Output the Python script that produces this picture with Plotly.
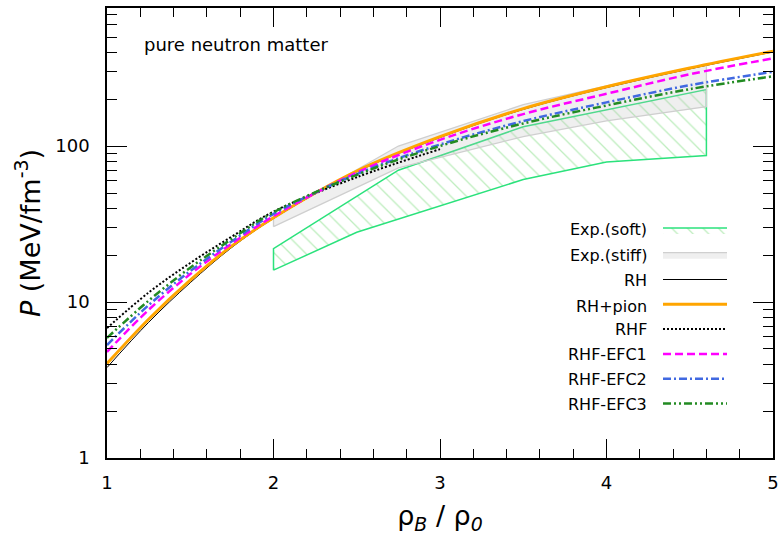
import plotly.graph_objects as go

# ---------------- data ----------------
rho = [1.0, 1.25, 1.5, 1.75, 2.0, 2.5, 3.0, 3.5, 4.0, 4.5, 5.0]
P_RH = [3.8, 7.41, 13.3, 22.4, 34.3, 68.4, 113.5, 171.8, 237.1, 312.6, 401.0]
P_RH_pion = [4.03, 7.76, 13.8, 22.9, 34.7, 69.2, 114.8, 173.8, 239.9, 316.2, 405.0]
rho_RHF = [1.0, 1.25, 1.5, 1.75, 2.0, 2.5, 3.0]
P_RHF = [6.81, 11.5, 17.8, 26.3, 38.0, 63.1, 95.5]
P_EFC1 = [4.79, 8.91, 15.1, 23.7, 35.5, 67.6, 109.6, 160.3, 216.3, 288.4, 364.8]
P_EFC2 = [5.3, 9.55, 15.8, 24.5, 36.7, 66.1, 102.3, 144.5, 190.5, 245.5, 299.2]
P_EFC3 = [5.89, 10.2, 16.6, 25.4, 37.6, 65.3, 100.0, 139.6, 182.0, 231.7, 279.9]

soft_lower_x = [2.0, 2.5, 3.5, 4.0, 4.6]
soft_lower = [16.0, 28.0, 61.0, 79.0, 87.0]
soft_upper_x = [2.0, 2.75, 3.5, 4.6]
soft_upper = [22.0, 70.0, 133.0, 230.0]

stiff_x = [2.0, 2.75, 3.5, 4.0, 4.6]
stiff_lower = [30.4, 72.4, 115.0, 145.0, 179.0]
stiff_upper = [35.0, 100.0, 184.0, 243.0, 331.0]

labels = ["Exp.(soft)", "Exp.(stiff)", "RH", "RH+pion", "RHF",
          "RHF-EFC1", "RHF-EFC2", "RHF-EFC3"]

FONT = "DejaVu Sans"

fig = go.Figure()

# soft band (hatched polygon)
fig.add_trace(go.Scatter(
    x=soft_lower_x + soft_upper_x[::-1] + [soft_lower_x[0]],
    y=soft_lower + soft_upper[::-1] + [soft_lower[0]],
    mode="lines", fill="toself",
    line=dict(color="#2be27c", width=1.5),
    fillcolor="rgba(255,255,255,0)",
    fillpattern=dict(shape="\\", fgcolor="#7edc7e", bgcolor="rgba(255,255,255,0)",
                     size=11, solidity=0.12),
    name="", legendgroup="a", hoverinfo="skip"))

# stiff band (grey)
fig.add_trace(go.Scatter(
    x=stiff_x + stiff_x[::-1] + [stiff_x[0]],
    y=stiff_lower + stiff_upper[::-1] + [stiff_lower[0]],
    mode="lines", fill="toself",
    line=dict(color="#cfcfcf", width=1.3),
    fillcolor="rgba(190,190,190,0.25)",
    name="", legendgroup="b", hoverinfo="skip"))

def curve(x, y, color, width, dash, grp):
    fig.add_trace(go.Scatter(x=x, y=y, mode="lines", line_shape="spline",
                             line=dict(color=color, width=width, dash=dash),
                             name="", legendgroup=grp))

curve(rho, P_RH, "#000000", 1.0, "solid", "c")
curve(rho, P_RH_pion, "#ffa500", 3.0, "solid", "d")
curve(rho_RHF, P_RHF, "#000000", 2.0, "2px,2px", "e")
curve(rho, P_EFC1, "#ff00ff", 2.5, "8px,4px", "f")
curve(rho, P_EFC2, "#4169e1", 2.5, "8px,3px,2px,3px", "g")
curve(rho, P_EFC3, "#228b22", 2.5, "8px,3px,2px,3px,2px,3px", "h")

# legend labels (text sits left of the swatches as in the reference)
row_y = [229, 255, 280, 306, 329, 354, 379, 404]
ann = []
for lab, py in zip(labels, row_y):
    ann.append(dict(text=lab, xref="paper", yref="paper",
                    x=(649 - 107) / 666, y=(458 - py) / 450,
                    xanchor="right", yanchor="middle", showarrow=False,
                    font=dict(family=FONT, size=16, color="#000")))
ann.append(dict(text="pure neutron matter", xref="paper", yref="paper",
                x=(142 - 107) / 666, y=(458 - 45) / 450,
                xanchor="left", yanchor="middle", showarrow=False,
                font=dict(family=FONT, size=18, color="#000")))

minor_y = [m * 10 ** e for e in range(0, 3) for m in range(2, 10) if m * 10 ** e < 760]

fig.update_layout(
    width=781, height=537,
    margin=dict(l=107, r=8, t=8, b=79),
    paper_bgcolor="white", plot_bgcolor="white",
    font=dict(family=FONT, color="#000"),
    showlegend=True,
    legend=dict(x=(658 - 107) / 666, y=(458 - 213) / 450, xanchor="left", yanchor="top",
                bgcolor="rgba(0,0,0,0)", borderwidth=0, itemwidth=64,
                traceorder="grouped", tracegroupgap=1,
                font=dict(family=FONT, size=16)),
    annotations=ann,
    xaxis=dict(range=[1, 5], tickvals=[1, 2, 3, 4, 5], ticks="inside", ticklen=19,
               tickwidth=1.2, tickcolor="#000", automargin=False,
               minor=dict(dtick=0.2, ticks="inside", ticklen=9, tickwidth=1, tickcolor="#000",
                          showgrid=False),
               showline=True, linewidth=1.5, linecolor="#000", mirror="ticks",
               showgrid=False, zeroline=False, ticklabelstandoff=8,
               tickfont=dict(family=FONT, size=18),
               title=dict(text="ρ<sub><i>B</i></sub> / ρ<sub><i>0</i></sub>",
                          font=dict(family=FONT, size=27), standoff=14)),
    yaxis=dict(type="log", range=[0, 2.885], tickvals=[1, 10, 100],
               ticktext=["1", "10", "100"], ticks="inside", ticklen=20,
               tickwidth=1.2, tickcolor="#000", automargin=False,
               minor=dict(tickvals=minor_y, ticks="inside", ticklen=10, tickwidth=1,
                          tickcolor="#000", showgrid=False),
               showline=True, linewidth=1.5, linecolor="#000", mirror="ticks",
               showgrid=False, zeroline=False, ticklabelstandoff=12,
               tickfont=dict(family=FONT, size=18),
               title=dict(text="<i>P</i> (MeV/fm<sup>-3</sup>)",
                          font=dict(family=FONT, size=27), standoff=7)),
)

fig.write_html("out.html", config={"displayModeBar": False},
               post_script="document.body.style.margin='0px';document.body.style.overflow='hidden';")
